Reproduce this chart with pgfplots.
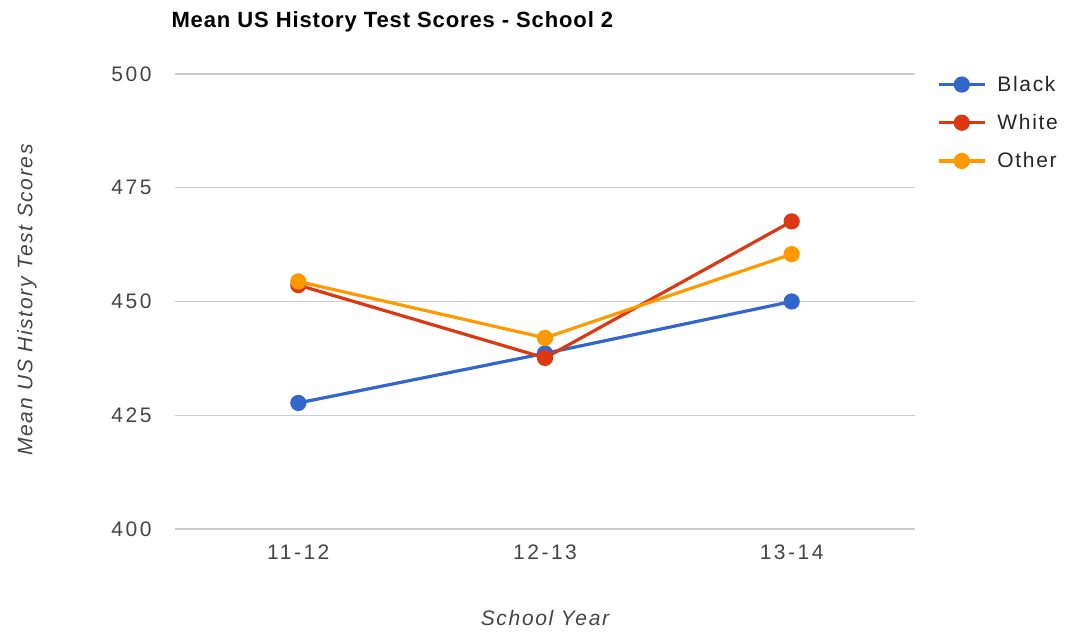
\documentclass[border=0pt]{standalone}
\usepackage{fontspec}
\setmainfont{Liberation Sans}
\newfontfamily\lsfont[LetterSpace=8]{Liberation Sans}
\newfontfamily\tkfont[LetterSpace=12]{Liberation Sans}
\newfontfamily\ttlfont[LetterSpace=4]{Liberation Sans}
\usepackage{pgfplots}
\pgfplotsset{compat=1.18}
\definecolor{gblue}{HTML}{3366CC}
\definecolor{gred}{HTML}{DC3912}
\definecolor{gorange}{HTML}{FF9900}
\definecolor{ggrid}{HTML}{CCCCCC}
\definecolor{gtext}{HTML}{444444}
\begin{document}
\begin{tikzpicture}[x=1pt,y=1pt]
\path[use as bounding box] (0,0) rectangle (1070,635);
\begin{axis}[
  at={(175pt,106pt)}, anchor=south west,
  scale only axis, width=740pt, height=455pt,
  xmin=-0.5, xmax=2.5, ymin=400, ymax=500,
  xtick={0,1,2}, xticklabels={11-12,12-13,13-14},
  ytick={400,425,450,475,500},
  axis line style={draw=none},
  major tick length=0pt,
  ymajorgrids, grid style={ggrid, line width=1.3pt},
  tick label style={font=\tkfont\fontsize{21}{24}\selectfont, text=gtext},
  /pgf/number format/assume math mode=true,
  yticklabel style={xshift=-20pt},
  xticklabel style={yshift=-12pt},
  clip=false,
  legend cell align=left,
  legend style={at={(rel axis cs:1,1)}, anchor=north west, xshift=22pt, yshift=0pt,
    draw=none, fill=none, font=\lsfont\fontsize{21}{24}\selectfont, text=black!85,
    row sep=17.5pt, column sep=9pt, inner sep=0pt},
  legend image code/.code={%
    \draw[mark repeat=2,mark phase=2] plot coordinates {(0pt,0pt) (23pt,0pt) (46pt,0pt)};},
]
\addplot[gblue, line width=3.2pt, mark=*, mark size=6.5pt] coordinates {(0,427.7) (1,438.6) (2,450.0)};
\addlegendentry{Black}
\addplot[gred, line width=3.2pt, mark=*, mark size=6.5pt] coordinates {(0,453.6) (1,437.6) (2,467.6)};
\addlegendentry{White}
\addplot[gorange, line width=3.2pt, mark=*, mark size=6.5pt] coordinates {(0,454.4) (1,442.0) (2,460.4)};
\addlegendentry{Other}
\end{axis}
\node[anchor=west, font=\ttlfont\fontsize{22}{26}\selectfont\bfseries] at (168,613) {Mean US History Test Scores - School 2};
\node[rotate=90, font=\lsfont\fontsize{21}{24}\selectfont\itshape, text=gtext] at (27,335) {Mean US History Test Scores};
\node[font=\lsfont\fontsize{21}{24}\selectfont\itshape, text=gtext] at (545,17) {School Year};
\end{tikzpicture}
\end{document}
